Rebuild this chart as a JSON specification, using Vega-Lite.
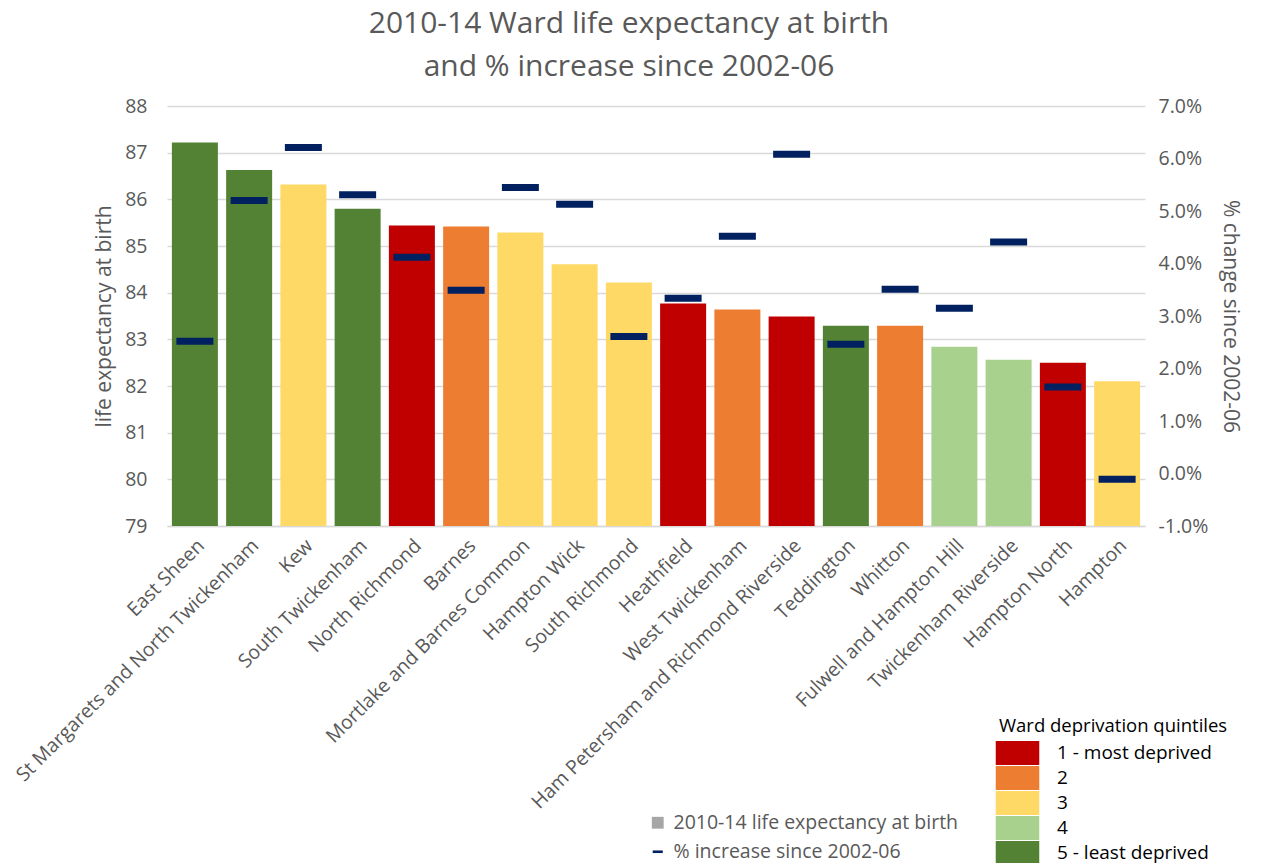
{
  "$schema": "https://vega.github.io/schema/vega-lite/v6.json",
  "width": 978,
  "height": 420,
  "padding": {"left": 12, "top": 9, "right": 0, "bottom": 0},
  "background": "white",
  "config": {
    "font": "Open Sans",
    "view": {"stroke": null},
    "axis": {"labelColor": "#595959", "titleColor": "#595959", "labelFont": "Open Sans", "titleFont": "Open Sans", "titleFontWeight": "normal"},
    "legend": {"labelFont": "Open Sans", "titleFont": "Open Sans", "labelColor": "#595959"}
  },
  "title": {
    "text": ["2010-14 Ward life expectancy at birth", "and % increase since 2002-06"],
    "fontSize": 30,
    "fontWeight": "normal",
    "color": "#595959",
    "lineHeight": 43,
    "anchor": "middle",
    "frame": "group",
    "dx": -27,
    "offset": 14
  },
  "data": {
    "values": [
      {"ward": "East Sheen", "le": 87.22, "pct": 0.0252, "q": "5 - least deprived"},
      {"ward": "St Margarets and North Twickenham", "le": 86.63, "pct": 0.0520, "q": "5 - least deprived"},
      {"ward": "Kew", "le": 86.32, "pct": 0.0621, "q": "3"},
      {"ward": "South Twickenham", "le": 85.80, "pct": 0.0531, "q": "5 - least deprived"},
      {"ward": "North Richmond", "le": 85.44, "pct": 0.0412, "q": "1 - most deprived"},
      {"ward": "Barnes", "le": 85.42, "pct": 0.0349, "q": "2"},
      {"ward": "Mortlake and Barnes Common", "le": 85.29, "pct": 0.0545, "q": "3"},
      {"ward": "Hampton Wick", "le": 84.61, "pct": 0.0513, "q": "3"},
      {"ward": "South Richmond", "le": 84.22, "pct": 0.0261, "q": "3"},
      {"ward": "Heathfield", "le": 83.77, "pct": 0.0334, "q": "1 - most deprived"},
      {"ward": "West Twickenham", "le": 83.64, "pct": 0.0452, "q": "2"},
      {"ward": "Ham Petersham and Richmond Riverside", "le": 83.49, "pct": 0.0608, "q": "1 - most deprived"},
      {"ward": "Teddington", "le": 83.29, "pct": 0.0246, "q": "5 - least deprived"},
      {"ward": "Whitton", "le": 83.29, "pct": 0.0351, "q": "2"},
      {"ward": "Fulwell and Hampton Hill", "le": 82.84, "pct": 0.0315, "q": "4"},
      {"ward": "Twickenham Riverside", "le": 82.56, "pct": 0.0441, "q": "4"},
      {"ward": "Hampton North", "le": 82.50, "pct": 0.0165, "q": "1 - most deprived"},
      {"ward": "Hampton", "le": 82.10, "pct": -0.0011, "q": "3"}
    ]
  },
  "encoding": {
    "x": {
      "field": "ward",
      "type": "nominal",
      "sort": null,
      "scale": {"paddingInner": 0.152, "paddingOuter": 0.09},
      "axis": {
        "title": null,
        "labelAngle": -45,
        "labelFontSize": 19.5,
        "labelPadding": 10,
        "ticks": false,
        "domainColor": "#D9D9D9",
        "domainWidth": 1.5,
        "labelLimit": 600
      }
    }
  },
  "layer": [
    {
      "mark": {"type": "bar"},
      "encoding": {
        "y": {
          "field": "le",
          "type": "quantitative",
          "scale": {"domain": [79, 88], "zero": false, "nice": false},
          "axis": {
            "orient": "left",
            "title": "life expectancy at birth",
            "titleFontSize": 21,
            "labelFontSize": 19.5,
            "values": [79, 80, 81, 82, 83, 84, 85, 86, 87, 88],
            "grid": true,
            "gridColor": "#D9D9D9",
            "gridWidth": 1.5,
            "domain": false,
            "ticks": false,
            "labelPadding": 20,
            "titlePadding": 10
          }
        },
        "y2": {"datum": 79},
        "color": {
          "field": "q",
          "type": "nominal",
          "scale": {
            "domain": ["1 - most deprived", "2", "3", "4", "5 - least deprived"],
            "range": ["#C00000", "#ED7D31", "#FFD966", "#A9D18E", "#548235"]
          },
          "legend": {
            "title": "Ward deprivation quintiles",
            "titleFontSize": 18.5,
            "titleFontWeight": "normal",
            "titleColor": "#000000",
            "titleLimit": 400,
            "labelLimit": 400,
            "labelColor": "#000000",
            "labelFontSize": 19,
            "orient": "none",
            "legendX": 832,
            "legendY": 611,
            "symbolType": "M-1.8,-1H1.8V1H-1.8Z",
            "symbolSize": 585,
            "symbolStrokeWidth": 0,
            "symbolOffset": 6,
            "rowPadding": 0,
            "labelOffset": 27,
            "titlePadding": 5
          }
        }
      }
    },
    {
      "mark": {"type": "tick", "thickness": 7, "size": 37, "color": "#002060", "opacity": 1},
      "encoding": {
        "y": {
          "field": "pct",
          "type": "quantitative",
          "scale": {"domain": [-0.01, 0.07], "zero": false, "nice": false},
          "axis": {
            "orient": "right",
            "title": "% change since 2002-06",
            "titleFontSize": 21,
            "labelFontSize": 19.5,
            "format": ".1%",
            "labelExpr": "replace(datum.label, '\u2212', '-')",
            "values": [-0.01, 0, 0.01, 0.02, 0.03, 0.04, 0.05, 0.06, 0.07],
            "grid": false,
            "domain": false,
            "ticks": false,
            "labelPadding": 13,
            "titlePadding": 12
          }
        }
      }
    },
    {
      "data": {"values": [{"series": "2010-14 life expectancy at birth"}]},
      "mark": {"type": "point", "filled": true, "color": "#A6A6A6", "opacity": 0},
      "encoding": {
        "x": {"datum": "East Sheen"},
        "shape": {
          "field": "series",
          "type": "nominal",
          "scale": {"domain": ["2010-14 life expectancy at birth"], "range": ["square"]},
          "legend": {
            "title": null,
            "orient": "none",
            "legendX": 481,
            "legendY": 707,
            "labelFontSize": 19.5,
            "labelLimit": 400,
            "labelColor": "#595959",
            "symbolOpacity": 1,
            "symbolFillColor": "#A6A6A6",
            "symbolSize": 140,
            "symbolStrokeWidth": 0,
            "labelOffset": 6
          }
        }
      }
    },
    {
      "data": {"values": [{"series": "% increase since 2002-06"}]},
      "mark": {"type": "point", "filled": true, "color": "#002060", "opacity": 0},
      "encoding": {
        "x": {"datum": "East Sheen"},
        "shape": {
          "field": "series",
          "type": "nominal",
          "scale": {"domain": ["% increase since 2002-06"], "range": ["M-0.85,-0.22H0.85V0.22H-0.85Z"]},
          "legend": {
            "title": null,
            "orient": "none",
            "legendX": 481,
            "legendY": 736,
            "labelFontSize": 19.5,
            "labelLimit": 400,
            "labelColor": "#595959",
            "symbolOpacity": 1,
            "symbolFillColor": "#002060",
            "symbolSize": 140,
            "symbolStrokeWidth": 0,
            "labelOffset": 6
          }
        }
      }
    }
  ],
  "resolve": {"scale": {"y": "independent", "color": "independent", "shape": "independent"}}
}
